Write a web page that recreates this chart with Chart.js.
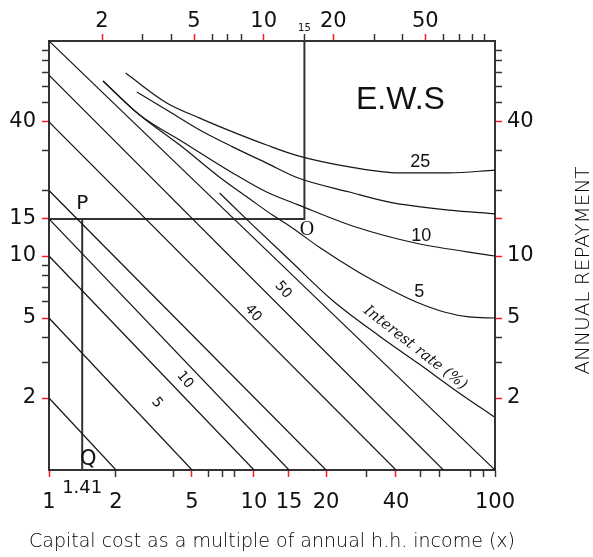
<!DOCTYPE html>
<html>
<head>
<meta charset="utf-8">
<script src="https://cdn.jsdelivr.net/npm/chart.js@4.4.1/dist/chart.umd.min.js"></script>
<style>
  html, body { margin: 0; padding: 0; background: #fff; }
</style>
</head>
<body>
<canvas id="ewsChart" width="593" height="557"></canvas>
<script>
// interest-rate lines: each runs from (1, start) on the left edge to (end, 1) on the bottom edge
const lineStarts = [2, 5, 10, 15, 20, 40, 68, 100];
const lineEnds = [2, 5, 10, 15, 20, 40, 62, 100];

// repayment curves in the upper part (x read on the top axis)
const curve25X = [2.53, 3.81, 5.29, 7.34, 10.3, 14.1, 23.5, 38.6, 63.4, 100];
const curve25Y = [69.6, 49.6, 41.8, 36.2, 31.7, 28.4, 25.4, 23.9, 23.9, 24.6];
const curve15X = [2.83, 3.81, 5.29, 7.34, 10.3, 14.1, 23.5, 34.9, 63.4, 100];
const curve15Y = [56.2, 45.8, 36.9, 31.1, 26.4, 22.7, 19.7, 17.8, 16.4, 15.8];
const curve10X = [2.02, 2.91, 4.47, 7.34, 10.3, 14.1, 25.2, 45.7, 100];
const curve10Y = [63.6, 43.3, 32.7, 23.9, 19.7, 17.3, 13.7, 11.5, 10];
const curve5X = [2.02, 2.91, 4.34, 6.45, 8.69, 10.92, 12.94, 17.4, 25.2, 34.9, 45.7, 60.3, 77.3, 100];
const curve5Y = [63.6, 43.3, 31.7, 22.9, 18.4, 15.6, 13.9, 11.0, 8.46, 6.92, 5.98, 5.35, 5.06, 5];
const rateCurveX = [6.45, 8.69, 12.94, 19.8, 31.6, 47.0, 70.0, 99];
const rateCurveY = [19.5, 14.5, 9.56, 6.1, 4.07, 2.95, 2.12, 1.67];

// construction lines: P -> O -> top, and P -> Q
const guideX = [1.18, 15, 15];
const guideY = [15, 15, 100];
const pqX = [1.41, 1.41];
const pqY = [15, 1];

// ticks
const bottomTicks = [1, 2, 4, 5, 6, 7, 8, 10, 15, 20, 30, 40, 50, 60, 80, 90, 100];
const bottomLabels = [1, 2, 5, 10, 15, 20, 40, 100];
const bottomRed = [1, 5, 10, 15, 20, 40];
const topTicks = [2, 3, 4, 5, 6, 7, 8, 10, 15, 20, 30, 40, 50, 60, 70, 80, 90];
const topLabels = [2, 5, 10, 15, 20, 50];
const topRed = [2, 5, 10, 20, 50];
const leftTicks = [2, 3, 4, 5, 6, 7, 8, 9, 10, 15, 20, 30, 40, 50, 60, 70, 80, 90];
const leftLabels = [2, 5, 10, 15, 40];
const rightTicks = [2, 3, 4, 5, 10, 15, 20, 30, 40, 50, 60, 70, 80, 90];
const rightLabels = [2, 5, 10, 40];
const sideRed = [2, 5, 10, 15, 40];

// the printed bottom/side axes are not evenly logarithmic:
// each knot says where (0..1 along the axis) a labelled value sits
const warps = {
    x: { values: [1, 2, 5, 10, 15, 20, 40, 100], at: [0, 0.1502, 0.3206, 0.4596, 0.5381, 0.6211, 0.7780, 1] },
    y: { values: [1, 2, 5, 10, 15, 40, 100], at: [0, 0.1678, 0.3543, 0.4988, 0.5851, 0.8112, 1] }
};
warps.y2 = warps.y;

function toDecimal(w, v) {
    let i = 1;
    while (i < w.values.length - 1 && v > w.values[i]) i++;
    const a = Math.log10(w.values[i - 1]), b = Math.log10(w.values[i]);
    return w.at[i - 1] + (Math.log10(v) - a) / (b - a) * (w.at[i] - w.at[i - 1]);
}
function fromDecimal(w, d) {
    let i = 1;
    while (i < w.at.length - 1 && d > w.at[i]) i++;
    const a = Math.log10(w.values[i - 1]), b = Math.log10(w.values[i]);
    return Math.pow(10, a + (d - w.at[i - 1]) / (w.at[i] - w.at[i - 1]) * (b - a));
}

const LogScale = Chart.LogarithmicScale || Chart.registry.getScale('logarithmic');
class WarpScale extends LogScale {
    static id = 'warp';
    getPixelForValue(value) {
        if (value === undefined || value === null || !(value > 0)) return NaN;
        return this.getPixelForDecimal(toDecimal(warps[this.id], value));
    }
    getValueForPixel(pixel) {
        return fromDecimal(warps[this.id], this.getDecimalForPixel(pixel));
    }
}
Chart.register(WarpScale);

const ink = '#151515';
const tickFont = { family: 'DejaVu Sans', size: 21 };

function axis(type, position, min, ticks, labels, red, pad, size, extra) {
    return Object.assign({
        type: type,
        position: position,
        min: min,
        max: 100,
        afterBuildTicks: s => { s.ticks = ticks.map(v => ({ value: v })); },
        afterFit: s => {
            if (s.isHorizontal()) s.height = size; else s.width = size;
        },
        border: { display: true, color: '#333', width: 2 },
        grid: {
            drawOnChartArea: false,
            drawTicks: true,
            tickLength: 7,
            tickWidth: 1.5,
            tickColor: ctx => (ctx.tick && red.includes(ctx.tick.value)) ? '#ff1a1a' : '#333'
        },
        ticks: {
            autoSkip: false,
            maxRotation: 0,
            minRotation: 0,
            padding: pad,
            color: '#111',
            font: tickFont,
            callback: v => labels.includes(v) ? String(v) : ''
        }
    }, extra || {});
}

const datasets = [];
lineStarts.forEach((s, i) => {
    datasets.push({
        data: [{ x: 1, y: s }, { x: lineEnds[i], y: 1 }],
        xAxisID: 'x', yAxisID: 'y',
        borderColor: ink, borderWidth: 1.2
    });
});
[[curve25X, curve25Y], [curve15X, curve15Y], [curve10X, curve10Y], [curve5X, curve5Y], [rateCurveX, rateCurveY]]
    .forEach(([xs, ys]) => {
        datasets.push({
            data: xs.map((x, i) => ({ x: x, y: ys[i] })),
            xAxisID: 'x2', yAxisID: 'y',
            borderColor: ink, borderWidth: 1.2,
            cubicInterpolationMode: 'monotone'
        });
    });
datasets.push({
    data: guideX.map((x, i) => ({ x: x, y: guideY[i] })),
    xAxisID: 'x2', yAxisID: 'y',
    borderColor: '#333', borderWidth: 2
});
datasets.push({
    data: pqX.map((x, i) => ({ x: x, y: pqY[i] })),
    xAxisID: 'x', yAxisID: 'y',
    borderColor: '#333', borderWidth: 2
});

// texts written on the chart
const notesPlugin = {
    id: 'notes',
    afterDatasetsDraw(chart) {
        const { ctx, scales, chartArea } = chart;
        const put = (text, px, py, font, angle, color) => {
            ctx.save();
            ctx.translate(px, py);
            if (angle) ctx.rotate(angle * Math.PI / 180);
            ctx.font = font;
            ctx.fillStyle = color || '#111';
            ctx.textAlign = 'center';
            ctx.textBaseline = 'middle';
            ctx.fillText(text, 0, 0);
            ctx.restore();
        };
        const note = (text, xAxis, x, y, font, angle) =>
            put(text, scales[xAxis].getPixelForValue(x), scales.y.getPixelForValue(y), font, angle);

        note('E.W.S', 'x2', 39, 51, '32px "Liberation Sans"');
        note('25', 'x2', 47.5, 26.7, '18px "Liberation Sans"');
        note('10', 'x2', 48, 12.45, '18px "Liberation Sans"');
        note('5', 'x2', 47, 6.69, '18px "Liberation Sans"');
        note('O', 'x2', 15.4, 13.4, '20px "Liberation Serif"');
        note('P', 'x', 1.41, 17.5, '20px "DejaVu Sans"');
        note('Q', 'x', 1.5, 1.11, '21px "DejaVu Sans"');
        note('Interest rate (%)', 'x2', 45.2, 3.55, 'italic 15px "DejaVu Serif"', 38);
        note('5', 'x', 3.28, 1.91, '14px "DejaVu Sans"', 50);
        note('10', 'x', 4.59, 2.46, '14px "DejaVu Sans"', 50);
        note('40', 'x', 9.9, 5.28, '14px "DejaVu Sans"', 50);
        note('50', 'x', 14, 6.84, '14px "DejaVu Sans"', 50);

        // value under the P-Q line, just below the axis
        put('1.41', scales.x.getPixelForValue(1.41), chartArea.bottom + 18, '18px "DejaVu Sans"');

        // axis titles
        put('Capital cost as a multiple of annual h.h. income (x)',
            (chartArea.left + chartArea.right) / 2, chart.height - 15, '200 19px "DejaVu Sans"', 0, '#000');
        put('ANNUAL REPAYMENT', chart.width - 9, (chartArea.top + chartArea.bottom) / 2 + 15,
            '200 20px "DejaVu Sans"', -90, '#000');
    }
};

new Chart(document.getElementById('ewsChart').getContext('2d'), {
    type: 'scatter',
    data: { datasets: datasets },
    options: {
        responsive: false,
        animation: false,
        layout: { padding: 0 },
        datasets: {
            scatter: { showLine: true, pointRadius: 0, pointHoverRadius: 0, fill: false }
        },
        plugins: {
            legend: { display: false },
            tooltip: { enabled: false }
        },
        scales: {
            x: axis('warp', 'bottom', 1, bottomTicks, bottomLabels, bottomRed, 13, 87),
            x2: axis('logarithmic', 'top', 1.18, topTicks, topLabels, topRed, 0, 41, {
                ticks: {
                    autoSkip: false, maxRotation: 0, minRotation: 0, padding: 0, color: '#111',
                    font: ctx => (ctx.tick && ctx.tick.value === 15) ? { family: 'DejaVu Sans', size: 10 } : tickFont,
                    callback: v => topLabels.includes(v) ? String(v) : ''
                }
            }),
            y: axis('warp', 'left', 1, leftTicks, leftLabels, sideRed, 6, 49),
            y2: axis('warp', 'right', 1, rightTicks, rightLabels, sideRed, 5, 98)
        }
    },
    plugins: [notesPlugin]
});
</script>
</body>
</html>
